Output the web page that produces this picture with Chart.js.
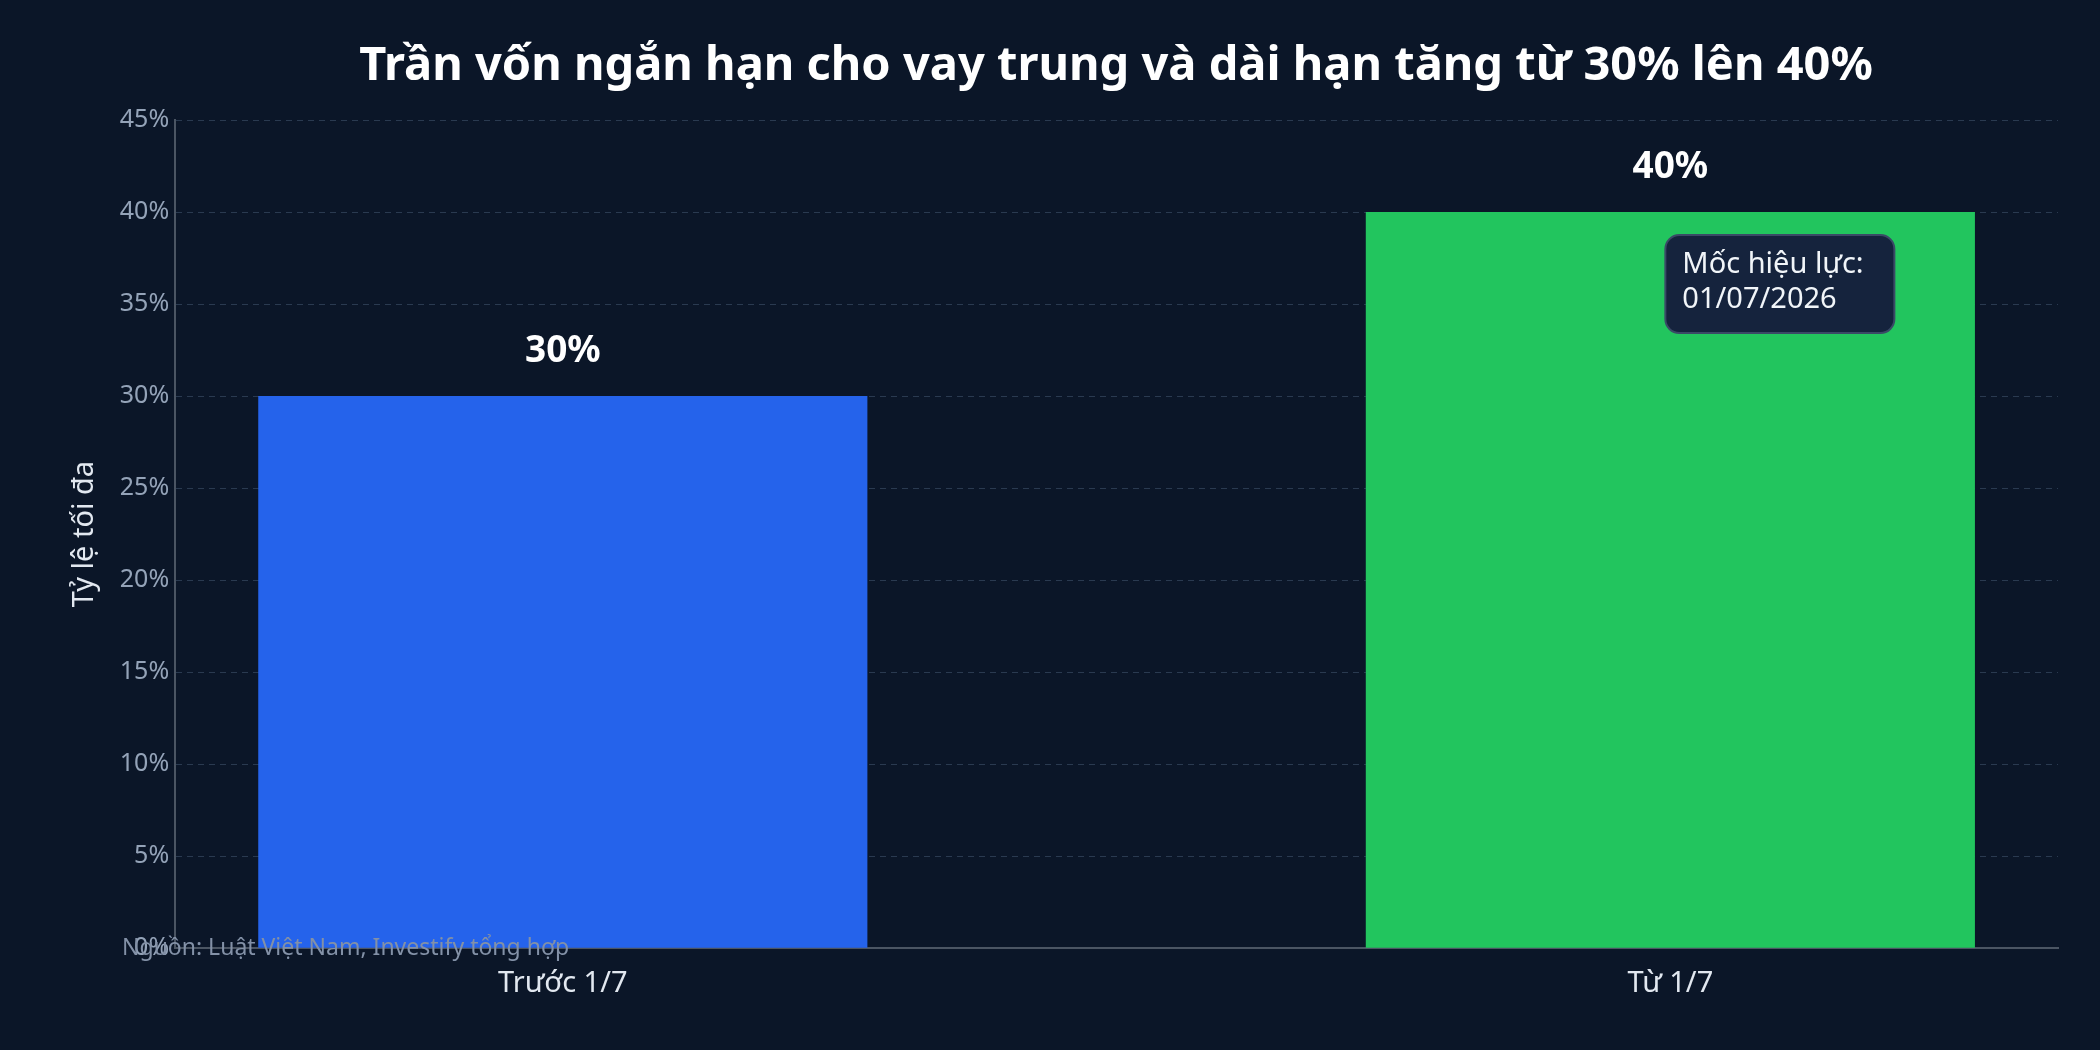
<!DOCTYPE html>
<html><head><meta charset="utf-8">
<script src="https://cdn.jsdelivr.net/npm/chart.js@4"></script>
<style>html,body{margin:0;background:#0b1628;}#w{width:2100px;height:1050px}</style>
</head><body><div id="w"><canvas id="c"></canvas></div>
<script>
const categories = ["Trước 1/7", "Từ 1/7"];
const values = [30, 40];
const colors = ["#2563eb", "#22c55e"];
const yTicks = [0,5,10,15,20,25,30,35,40,45];
const title = "Trần vốn ngắn hạn cho vay trung và dài hạn tăng từ 30% lên 40%";
const note = ["Mốc hiệu lực:", "01/07/2026"];
const source = "Nguồn: Luật Việt Nam, Investify tổng hợp";
const F = "'Noto Sans', sans-serif";

const extras = {
  id: 'extras',
  afterDatasetsDraw(ch) {
    const {ctx, scales:{x,y}} = ch;
    ctx.save();
    ctx.fillStyle = '#ffffff'; ctx.font = `bold 47px ${F}`;
    ctx.textAlign = 'center'; ctx.textBaseline = 'middle';
    ctx.fillText(title, 1116, 67);
    ctx.font = `bold 37px ${F}`;
    values.forEach((v,i)=>ctx.fillText(v+'%', x.getPixelForValue(i), y.getPixelForValue(v)-45));
    const bx = x.getPixelForValue(1)-5, by = y.getPixelForValue(38.75);
    const bw = 229, bh = 98, r = 14;
    ctx.beginPath(); ctx.roundRect(bx, by, bw, bh, r);
    ctx.fillStyle = '#15233d'; ctx.fill();
    ctx.strokeStyle = '#3a4a66'; ctx.lineWidth = 2; ctx.stroke();
    ctx.fillStyle = '#f1f5f9'; ctx.font = `29px ${F}`; ctx.textAlign='left';
    ctx.fillText(note[0], bx+17, by+30); ctx.fillText(note[1], bx+17, by+65);
    ctx.fillStyle = '#8391a7'; ctx.font = `23px ${F}`;
    ctx.fillText(source, 122, y.getPixelForValue(0));
    ctx.restore();
  }
};

new Chart(document.getElementById('c'), {
  type: 'bar',
  data: { datasets: [{ data: values.map((v,i)=>({x:i,y:v})), backgroundColor: colors,
    categoryPercentage: 1, barPercentage: 0.55 }] },
  options: {
    responsive: true, maintainAspectRatio: false, animation: false,
    layout: { padding: { left: 55, right: 42, top: 120, bottom: 39 } },
    plugins: { legend: {display:false}, tooltip:{enabled:false}, title: { display: false } },
    scales: {
      x: { type: 'linear', min: -0.35, max: 1.35, offset: false,
        afterBuildTicks: s => { s.ticks = [{value:0},{value:1}]; },
        ticks: { color: '#e2e8f0', font: {family: F, size: 29}, callback: v => categories[v] ?? '', padding: 10 },
        grid: { display: false, tickLength: 8, color: '#8391a7' },
        border: { color: '#4b5563', width: 2 } },
      y: { min: 0, max: 45,
        afterBuildTicks: s => { s.ticks = yTicks.map(v=>({value:v})); },
        ticks: { color: '#94a3b8', font: {family: F, size: 25}, callback: v => v + '%', padding: 6 },
        grid: { color: '#2a3a50', drawTicks: false },
        border: { color: '#4b5563', width: 2, dash: [6,5] },
        title: { display: true, text: 'Tỷ lệ tối đa', color: '#e2e8f0', font: {family: F, size: 29}, padding: 12 } }
    }
  },
  plugins: [extras]
});
</script></body></html>
